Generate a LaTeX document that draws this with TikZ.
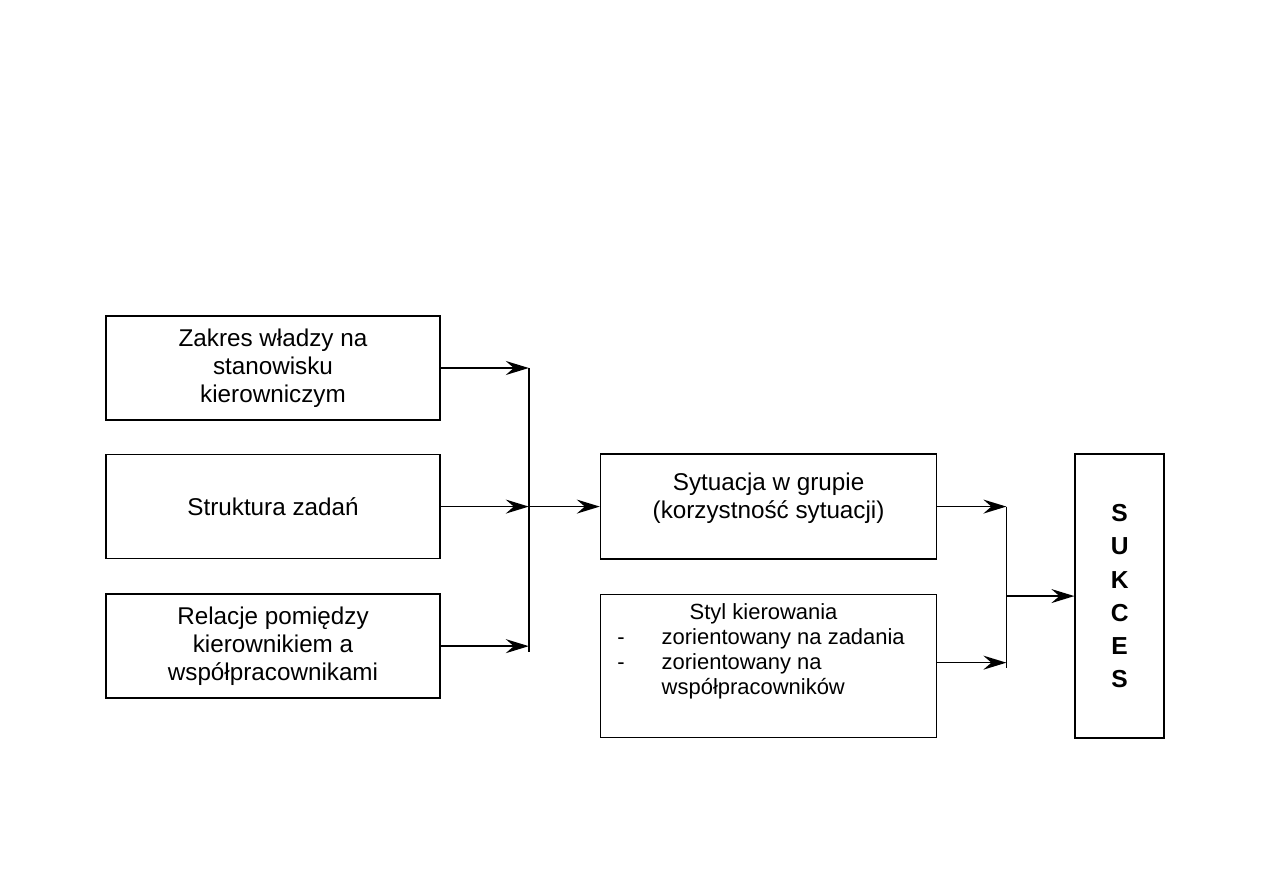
\documentclass[tikz,border=0pt]{standalone}
\usepackage{fontspec}
\setmainfont{Liberation Sans}
\usepackage{tikz}
\usetikzlibrary{
  arrows.meta,
  positioning,
  calc
}
\tikzset{
  % Factor box: fixed width and height
  fbox/.style={
    rectangle, draw=black, line width=0.9pt,
    minimum width=6.68cm, minimum height=2.08cm,
    align=center, font=\fontsize{13.8}{16}\selectfont
  },
  % Result box
  rbox/.style={
    rectangle, draw=black, line width=0.9pt,
    minimum width=1.78cm, minimum height=5.68cm,
    align=center, font=\fontsize{14}{18.8}\selectfont\bfseries
  },
  % Arrow
  arr/.style={
    -{Stealth[length=0.46cm,width=0.28cm,inset=0.16cm]},
    line width=0.9pt, color=black
  },
  % Joining bar
  bar/.style={line width=0.9pt, color=black}
}
\begin{document}
\begin{tikzpicture}
  \useasboundingbox (0,0) rectangle (25.26,17.86);

  \node[fbox] (zakres) at (5.46,10.5) {Zakres władzy na\\stanowisku\\kierowniczym};
  \node[fbox, below=0.66cm of zakres]     (struktura) {Struktura zadań};
  \node[fbox, below=0.68cm of struktura]  (relacje)   {Relacje pomiędzy\\kierownikiem a\\współpracownikami};
  \node[fbox, minimum width=6.72cm, minimum height=2.1cm, right=3.18cm of struktura] (sytuacja) {Sytuacja w grupie\\(korzystność sytuacji)\\[-0.11cm]};
  \node[fbox, minimum width=6.72cm, minimum height=2.86cm, below=0.68cm of sytuacja, font=\fontsize{12.5}{14.2}\selectfont] (styl) {%
    \begin{tabular}{@{}l@{\hspace{0.74cm}}l@{\hspace{0.3cm}}}
      \multicolumn{2}{@{}c@{}}{\hspace{-0.2cm}Styl kierowania}\\
      - & zorientowany na zadania\\
      - & zorientowany na\\
        & współpracowników\\[0.55cm]
    \end{tabular}};
  \node[rbox, right=2.74cm of sytuacja.north east, anchor=north west] (sukces) {S\\U\\K\\C\\E\\S};

  \coordinate (jL) at ([xshift=1.76cm]struktura.east);
  \coordinate (jR) at ([xshift=1.38cm]sytuacja.east);

  % left group
  \draw[arr] (zakres.east)    -- (zakres.east -| jL);
  \draw[arr] (struktura.east) -- (struktura.east -| jL);
  \draw[arr] (relacje.east)   -- (relacje.east -| jL);
  \draw[bar] (zakres.east -| jL) -- ([yshift=-0.12cm]relacje.east -| jL);
  \draw[arr] (jL) -- (sytuacja.west);

  % right group
  \draw[arr] (sytuacja.east) -- (sytuacja.east -| jR);
  \draw[arr] ([yshift=0.07cm]styl.east) -- ([yshift=0.07cm]styl.east -| jR);
  \draw[bar] (sytuacja.east -| jR) -- ([yshift=-0.03cm]styl.east -| jR);
  \draw[arr] (jR |- sukces.west) -- (sukces.west);
\end{tikzpicture}
\end{document}
